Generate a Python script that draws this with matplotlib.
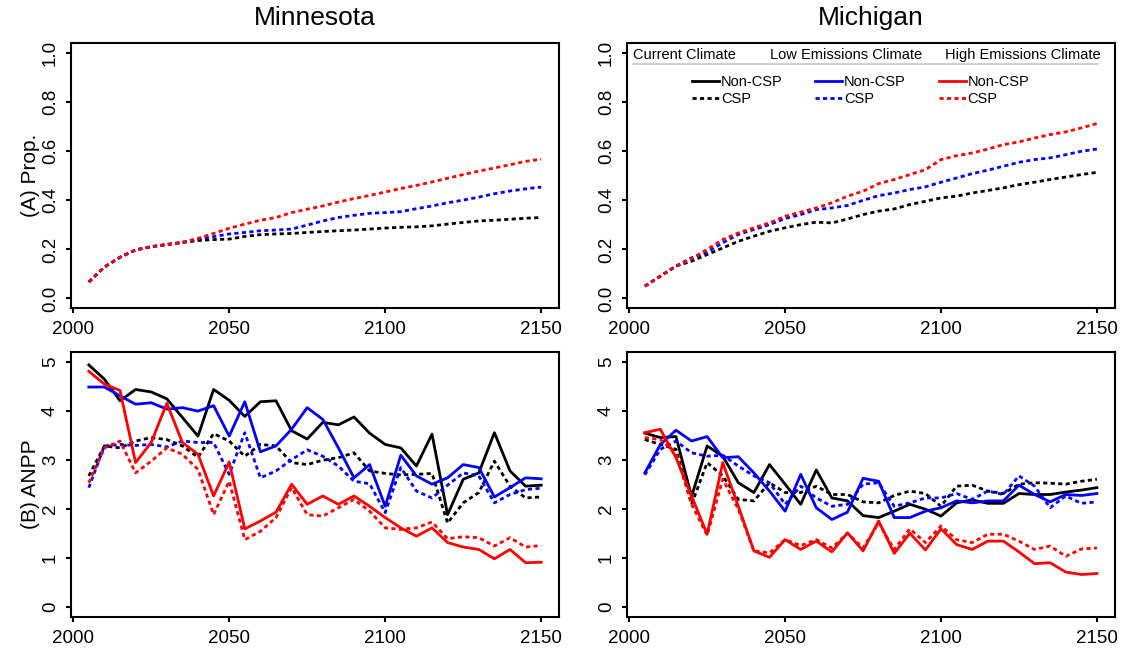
import matplotlib
matplotlib.use("Agg")
import matplotlib.pyplot as plt
import numpy as np

plt.rcParams['font.family'] = ['Liberation Sans', 'DejaVu Sans']

years = list(range(2005, 2155, 5))

# proportion of CSP stands
mn_prop_cur = [0.067, 0.128, 0.168, 0.198, 0.211, 0.220, 0.228, 0.236, 0.240, 0.242, 0.253, 0.260, 0.263, 0.265, 0.269,
               0.273, 0.276, 0.279, 0.283, 0.287, 0.290, 0.292, 0.296, 0.303, 0.310, 0.316, 0.319, 0.323, 0.327, 0.330]
mn_prop_low = [0.067, 0.128, 0.168, 0.198, 0.211, 0.220, 0.229, 0.242, 0.252, 0.263, 0.269, 0.276, 0.279, 0.283, 0.299,
               0.316, 0.330, 0.339, 0.347, 0.350, 0.354, 0.366, 0.377, 0.390, 0.401, 0.413, 0.427, 0.438, 0.447, 0.454]
mn_prop_high = [0.067, 0.128, 0.168, 0.198, 0.211, 0.220, 0.229, 0.245, 0.265, 0.286, 0.303, 0.319, 0.330, 0.350, 0.364,
                0.377, 0.393, 0.407, 0.420, 0.434, 0.448, 0.461, 0.475, 0.490, 0.505, 0.519, 0.532, 0.545, 0.559, 0.568]

mi_prop_cur = [0.050, 0.091, 0.132, 0.152, 0.179, 0.206, 0.233, 0.254, 0.274, 0.288, 0.301, 0.311, 0.308, 0.324, 0.342,
               0.356, 0.365, 0.383, 0.396, 0.410, 0.417, 0.430, 0.440, 0.451, 0.464, 0.474, 0.485, 0.495, 0.505, 0.514]
mi_prop_low = [0.050, 0.091, 0.132, 0.166, 0.189, 0.227, 0.261, 0.281, 0.301, 0.326, 0.342, 0.362, 0.369, 0.379, 0.400,
               0.419, 0.430, 0.444, 0.455, 0.474, 0.491, 0.509, 0.523, 0.539, 0.555, 0.566, 0.573, 0.586, 0.600, 0.609]
mi_prop_high = [0.050, 0.091, 0.132, 0.162, 0.200, 0.240, 0.267, 0.288, 0.308, 0.335, 0.352, 0.369, 0.390, 0.417, 0.437,
                0.468, 0.485, 0.505, 0.525, 0.566, 0.582, 0.593, 0.609, 0.627, 0.638, 0.654, 0.668, 0.679, 0.695, 0.713]

# ANPP, Minnesota
mn_cur_non = [4.93, 4.64, 4.20, 4.43, 4.38, 4.24, 3.86, 3.48, 4.43, 4.21, 3.88, 4.18, 4.20, 3.59, 3.42,
              3.76, 3.71, 3.87, 3.54, 3.31, 3.24, 2.87, 3.52, 1.88, 2.60, 2.73, 3.55, 2.77, 2.46, 2.48]
mn_low_non = [4.48, 4.48, 4.30, 4.13, 4.16, 4.03, 4.06, 3.99, 4.10, 3.48, 4.18, 3.16, 3.28, 3.62, 4.06,
              3.82, 3.24, 2.63, 2.90, 2.05, 3.09, 2.67, 2.50, 2.63, 2.90, 2.84, 2.24, 2.43, 2.63, 2.61]
mn_high_non = [4.80, 4.54, 4.41, 2.94, 3.35, 4.15, 3.35, 3.11, 2.26, 2.95, 1.59, 1.75, 1.93, 2.50, 2.09,
               2.26, 2.09, 2.26, 2.05, 1.82, 1.61, 1.44, 1.61, 1.31, 1.22, 1.17, 0.98, 1.17, 0.90, 0.91]
mn_cur_csp = [2.67, 3.28, 3.24, 3.38, 3.45, 3.41, 3.28, 3.05, 3.53, 3.38, 3.07, 3.31, 3.28, 2.94, 2.90,
              2.99, 3.04, 3.14, 2.77, 2.72, 2.69, 2.70, 2.72, 1.71, 2.12, 2.33, 2.97, 2.46, 2.22, 2.24]
mn_low_csp = [2.43, 3.28, 3.31, 3.29, 3.31, 3.26, 3.38, 3.35, 3.35, 2.70, 3.55, 2.63, 2.77, 3.00, 3.20,
              3.07, 2.87, 2.56, 2.51, 1.92, 2.84, 2.36, 2.22, 2.48, 2.73, 2.67, 2.12, 2.29, 2.39, 2.42]
mn_high_csp = [2.53, 3.24, 3.38, 2.73, 2.97, 3.24, 3.11, 2.80, 1.88, 2.56, 1.37, 1.54, 1.82, 2.43, 1.88,
               1.85, 2.02, 2.19, 1.95, 1.61, 1.58, 1.61, 1.73, 1.39, 1.43, 1.41, 1.24, 1.41, 1.22, 1.25]

# ANPP, Michigan
mi_cur_non = [3.54, 3.45, 3.47, 2.25, 3.28, 3.07, 2.53, 2.33, 2.90, 2.50, 2.09, 2.79, 2.22, 2.16, 1.86,
              1.82, 1.95, 2.09, 1.99, 1.85, 2.12, 2.18, 2.11, 2.11, 2.31, 2.29, 2.29, 2.34, 2.38, 2.43]
mi_low_non = [2.73, 3.31, 3.60, 3.38, 3.47, 3.04, 3.06, 2.73, 2.36, 1.95, 2.70, 2.02, 1.78, 1.93, 2.62,
              2.56, 1.82, 1.82, 1.95, 2.02, 2.16, 2.12, 2.16, 2.16, 2.48, 2.29, 2.14, 2.29, 2.27, 2.31]
mi_high_non = [3.55, 3.62, 3.04, 2.26, 1.48, 2.94, 2.05, 1.14, 1.01, 1.37, 1.17, 1.34, 1.12, 1.51, 1.14,
               1.75, 1.09, 1.50, 1.16, 1.59, 1.27, 1.17, 1.34, 1.34, 1.12, 0.88, 0.90, 0.71, 0.66, 0.68]
mi_cur_csp = [3.41, 3.31, 3.21, 2.09, 2.94, 2.67, 2.19, 2.16, 2.53, 2.33, 2.33, 2.46, 2.29, 2.29, 2.14,
              2.12, 2.27, 2.36, 2.31, 2.05, 2.46, 2.48, 2.36, 2.31, 2.50, 2.53, 2.52, 2.50, 2.56, 2.60]
mi_low_csp = [2.69, 3.21, 3.38, 3.14, 3.07, 3.09, 2.87, 2.67, 2.53, 2.09, 2.46, 2.22, 2.05, 2.09, 2.50,
              2.53, 2.05, 2.12, 2.22, 2.22, 2.31, 2.19, 2.36, 2.29, 2.67, 2.46, 2.02, 2.26, 2.11, 2.14]
mi_high_csp = [3.45, 3.41, 3.14, 2.09, 1.46, 2.60, 1.99, 1.14, 1.10, 1.37, 1.25, 1.37, 1.20, 1.50, 1.20,
               1.71, 1.17, 1.59, 1.31, 1.65, 1.37, 1.31, 1.48, 1.48, 1.34, 1.17, 1.24, 1.03, 1.18, 1.20]

colors = ['black', '#0000ff', '#ff0000']
scenarios = ['Current Climate', 'Low Emissions Climate', 'High Emissions Climate']
dash = (0, (1.5, 1.2))
lw = 2.0

fig = plt.figure(figsize=(11.29, 6.53), dpi=100)
W, H = 1129.0, 653.0


def make_ax(x0, x1, y0, y1):
    return fig.add_axes([x0 / W, 1 - y1 / H, (x1 - x0) / W, (y1 - y0) / H])


ax_mn_p = make_ax(70.7, 559.3, 43.3, 308.3)
ax_mi_p = make_ax(626.7, 1115.0, 43.3, 308.3)
ax_mn_a = make_ax(70.7, 559.3, 351.7, 616.7)
ax_mi_a = make_ax(626.7, 1115.0, 351.7, 616.7)


def style(ax, yticks, ylim):
    ax.set_xlim(1999.2, 2155.8)
    ax.set_ylim(*ylim)
    ax.set_xticks([2000, 2050, 2100, 2150])
    ax.set_yticks(yticks)
    for s in ax.spines.values():
        s.set_linewidth(1.5)
    ax.tick_params(direction='out', length=3.5, width=1.5, labelsize=13.5)
    ax.tick_params(axis='x', pad=6)
    ax.tick_params(axis='y', labelrotation=90, pad=5)


for ax, cur, low, high in [(ax_mn_p, mn_prop_cur, mn_prop_low, mn_prop_high),
                           (ax_mi_p, mi_prop_cur, mi_prop_low, mi_prop_high)]:
    for vals, c in zip([cur, low, high], colors):
        ax.plot(years, vals, color=c, lw=lw, linestyle=dash)
    style(ax, [0.0, 0.2, 0.4, 0.6, 0.8, 1.0], (-0.04, 1.04))
    ax.set_yticklabels(['0.0', '0.2', '0.4', '0.6', '0.8', '1.0'])

anpp = [(ax_mn_a, [mn_cur_non, mn_low_non, mn_high_non], [mn_cur_csp, mn_low_csp, mn_high_csp]),
        (ax_mi_a, [mi_cur_non, mi_low_non, mi_high_non], [mi_cur_csp, mi_low_csp, mi_high_csp])]
for ax, non, csp in anpp:
    for n, s, c in zip(non, csp, colors):
        ax.plot(years, s, color=c, lw=lw, linestyle=dash)
        ax.plot(years, n, color=c, lw=lw)
    style(ax, [0, 1, 2, 3, 4, 5], (-0.2, 5.2))

for ax in [ax_mn_p, ax_mi_p, ax_mn_a, ax_mi_a]:
    for lab in ax.get_yticklabels():
        lab.set_va('center')

# legend in the Michigan proportion panel
handles = []
for c in colors:
    h1, = ax_mi_p.plot([], [], color=c, lw=lw, label='Non-CSP')
    h2, = ax_mi_p.plot([], [], color=c, lw=lw, linestyle=dash, label='CSP')
    handles += [h1, h2]
ax_mi_p.legend(handles=handles, ncol=3, loc='upper left', bbox_to_anchor=(0.134, 0.88),
               frameon=False, fontsize=10.5, handlelength=1.85, handletextpad=0.12,
               columnspacing=2.25, labelspacing=0.2, borderpad=0, borderaxespad=0)
for x, txt in zip([0.013, 0.293, 0.652], scenarios):
    ax_mi_p.text(x, 0.956, txt, transform=ax_mi_p.transAxes, fontsize=10.5, va='center', ha='left')
ax_mi_p.plot([0.013, 0.966], [0.922, 0.922], transform=ax_mi_p.transAxes, color='#c8c8c8', lw=1.2)

fig.text(315 / W, 1 - 18 / H, 'Minnesota', fontsize=19, ha='center', va='center')
fig.text(871 / W, 1 - 18 / H, 'Michigan', fontsize=19, ha='center', va='center')
fig.text(31 / W, 1 - 175.8 / H, '(A) Prop.', fontsize=15, rotation=90, ha='center', va='center')
fig.text(31 / W, 1 - 484.2 / H, '(B) ANPP', fontsize=15, rotation=90, ha='center', va='center')

fig.savefig('out.png', dpi=100)
